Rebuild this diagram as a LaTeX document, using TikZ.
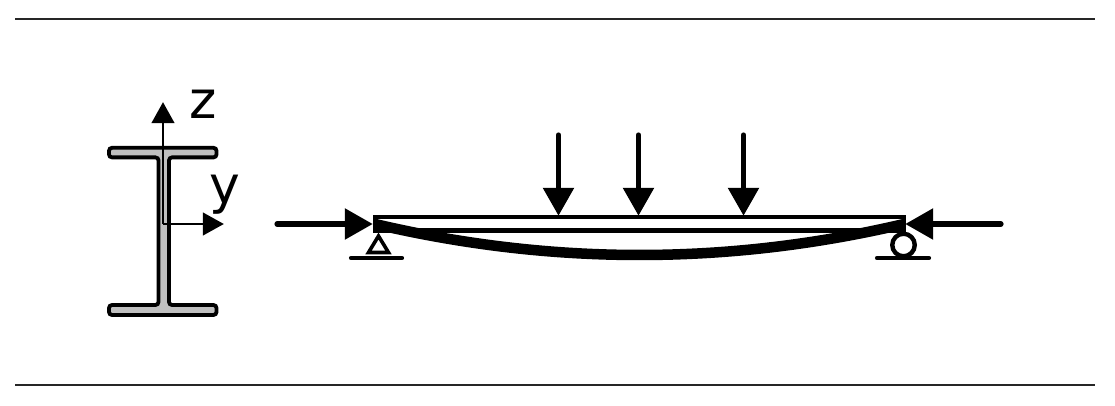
\documentclass[tikz,border=0pt]{standalone}
\usepackage{fontspec}
\setmainfont{DejaVu Sans}
\usetikzlibrary{positioning,
        arrows.meta}
\tikzset{
        rule/.style={line width=1.3pt,draw=black!85},
        profile/.style={line width=3.8pt,draw=black,fill=black!25,rounded corners=3pt},
        axis/.style={line width=1.3pt,-{Triangle[length=21pt,width=23pt]}},
        force/.style={line width=5.6pt,-{Triangle[length=28pt,width=30pt]}},
        thick line/.style={line width=4.4pt},
        ground/.style={line width=4.6pt,line cap=round},
        point/.style={inner sep=0pt,minimum size=0pt},
        label text/.style={font=\fontsize{52}{52}\selectfont}
}

\begin{document}
\begin{tikzpicture}[x=1pt,y=-1pt]
        \useasboundingbox (0,0) rectangle (1115,406);

        \node [point] (r1) at (15,19) {};
        \node [point] (r2) at (1095,19) {};
        \node [point] (r3) at (15,385) {};
        \node [point] (r4) at (1095,385) {};
        \draw [rule] (r1) -- (r2);
        \draw [rule] (r3) -- (r4);

        % I profile
        \draw [profile] (158.5,157.4) -- (109,157.4) -- (109,147.8) -- (216.5,147.8)
                -- (216.5,157.4) -- (169,157.4) -- (169,305) -- (216.5,305)
                -- (216.5,315) -- (109,315) -- (109,305) -- (158.5,305) -- cycle;

        % axes
        \node [point] (o) at (163,224) {};
        \node [point] (zt) at (163,102) {};
        \node [point] (yt) at (224,224) {};
        \draw [axis] (o.center) -- (zt);
        \draw [axis] (o.center) -- (yt);
        \node [label text] (zl) at (203.5,104) {z};
        \node [label text] (yl) at (225,195) {y};

        % beam
        \node [point] (bl) at (375,224) {};
        \node [point] (br) at (904,224) {};
        \draw [thick line] (375,217) rectangle (904,230.5);
        \draw [line width=10.5pt] (bl) .. controls (551.3,265.3) and (727.7,265.3) .. (br);

        % forces
        \node [point] (a1) at (277,224) {};
        \node [point] (a2) at (373,224) {};
        \node [point] (a3) at (1001,224) {};
        \node [point] (a4) at (905,224) {};
        \draw [force,line cap=round] (a1) -- (a2);
        \draw [force,line cap=round] (a3) -- (a4);
        \foreach \i/\px in {1/558.5,2/638.5,3/743.5} {
                \node [point] (s\i) at (\px,135) {};
                \node [point] (t\i) at (\px,216) {};
                \draw [force,line cap=round] (s\i) -- (t\i);
        }

        % supports
        \draw [line width=3.6pt,line join=miter] (378.5,236) -- (368.5,252.5) -- (388.5,252.5) -- cycle;
        \node [point] (g1) at (351,258) {};
        \node [point] (g2) at (402,258) {};
        \draw [ground] (g1) -- (g2);
        \node [circle,draw,line width=4.4pt,minimum size=22.5pt,inner sep=0pt] (roll) at (903.5,245) {};
        \node [point] (g3) at (877,258) {};
        \node [point] (g4) at (929,258) {};
        \draw [ground] (g3) -- (g4);
\end{tikzpicture}
\end{document}
